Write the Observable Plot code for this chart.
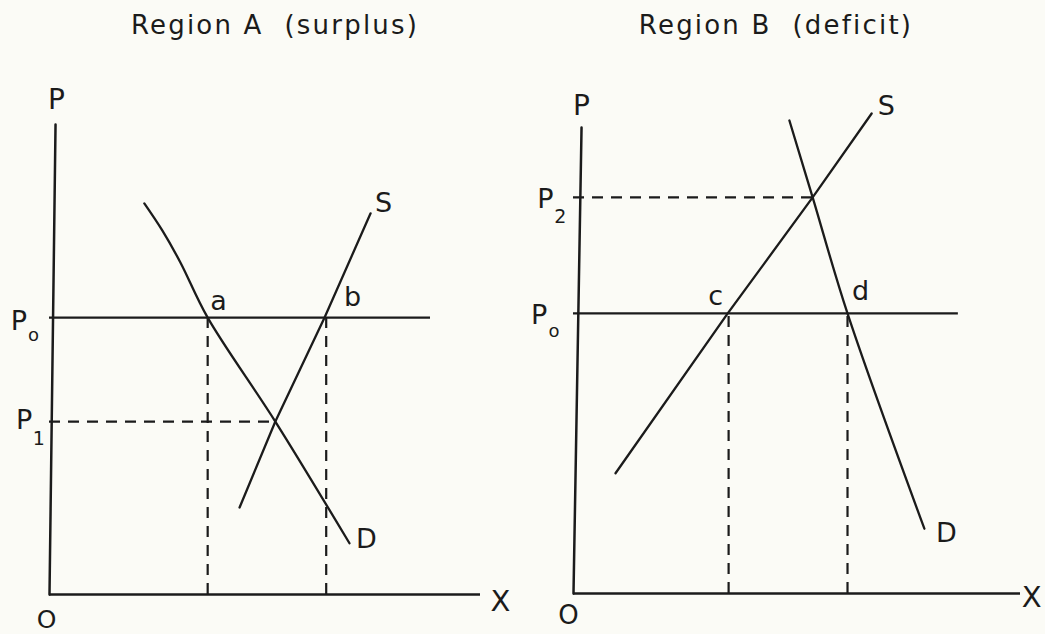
<!DOCTYPE html>
<html>
<head>
<meta charset="utf-8">
<script src="https://cdn.jsdelivr.net/npm/d3@7"></script>
<script src="https://cdn.jsdelivr.net/npm/@observablehq/plot@0.6"></script>
<style>
  html, body { margin: 0; padding: 0; background: #fbfbf6; }
  #page { position: relative; width: 1045px; height: 634px; overflow: hidden; font-family: "DejaVu Sans", sans-serif; color: #1b1b1b; }
  .titles { position: relative; height: 60px; }
  .title { position: absolute; top: 10px; transform: translateX(-50%); white-space: pre; font-size: 26px; letter-spacing: 2.2px; line-height: 30px; }
  .row { display: flex; }
  .row svg { display: block; }
</style>
</head>
<body>
<div id="page">
  <div class="titles">
    <div class="title" id="titleA" style="left:275px"></div>
    <div class="title" id="titleB" style="left:776px"></div>
  </div>
  <div class="row" id="row"></div>
</div>
<script>
// ---------- Data (diagram units: quantity X on 0..100, price P on 0..100) ----------
const panelTitles = ["Region A  (surplus)", "Region B  (deficit)"];

// Region A (surplus)
const aPriceLevels = { P0: 58.9, P1: 36.8 };
const aPriceLineEnd = 88.4;          // where the P0 line stops
const aQuantities = { a: 36.7, b: 64.2, E: 52.4 };
const aDemandX = [22.0, 26.2, 30.4, 36.7, 52.4, 69.6];
const aDemandP = [83.2, 77.4, 70.6, 58.9, 36.8, 10.9];
const aSupplyX = [44.1, 52.4, 63.8, 74.5];
const aSupplyP = [18.5, 36.8, 58.9, 81.1];
const aAxisTopX = 1.4;

// Region B (deficit)
const bPriceLevels = { P0: 60.1, P2: 85.0 };
const bPriceLineEnd = 86.1;
const bQuantities = { c: 34.7, d: 61.3, E: 53.5 };
const bSupplyX = [9.4, 34.5, 53.5, 66.7];
const bSupplyP = [25.8, 60.1, 85.0, 103.0];
const bDemandX = [48.3, 53.5, 61.3, 78.5];
const bDemandP = [101.5, 85.0, 60.1, 13.9];
const bAxisTopX = 1.8;

// Labels: text, position in diagram units, size; sub = subscript (left-anchored)
const aLabels = [
  { t: "P", x: 1.6, y: 105.3, s: 28 },
  { t: "S", x: 77.5, y: 83.2, s: 27 },
  { t: "a", x: 39.2, y: 62.3, s: 27 },
  { t: "b", x: 70.3, y: 63.2, s: 27 },
  { t: "P", x: -7.1, y: 58.1, s: 27 },
  { t: "o", x: -5.0, y: 55.2, s: 18, sub: true },
  { t: "P", x: -5.9, y: 37.0, s: 27 },
  { t: "1", x: -3.9, y: 33.2, s: 19, sub: true },
  { t: "D", x: 73.5, y: 11.7, s: 27 },
  { t: "O", x: -0.7, y: -5.4, s: 25 },
  { t: "X", x: 104.6, y: -1.5, s: 29 }
];
const bLabels = [
  { t: "P", x: 1.8, y: 104.5, s: 28 },
  { t: "S", x: 70.0, y: 104.5, s: 27 },
  { t: "P", x: -6.3, y: 84.5, s: 27 },
  { t: "2", x: -4.3, y: 80.9, s: 19, sub: true },
  { t: "c", x: 31.8, y: 63.7, s: 27 },
  { t: "d", x: 64.2, y: 64.8, s: 27 },
  { t: "P", x: -7.7, y: 59.7, s: 27 },
  { t: "o", x: -5.6, y: 56.3, s: 18, sub: true },
  { t: "D", x: 83.4, y: 12.9, s: 27 },
  { t: "O", x: -1.1, y: -4.8, s: 26 },
  { t: "X", x: 102.5, y: -0.9, s: 29 }
];

const ink = "#1b1b1b";
const dash = "11,8";

function pts(xs, ys) { return xs.map((x, i) => ({ x, y: ys[i] })); }

function panel(opts) {
  const { width, height, margins, axisTopX, solidLevel, solidEnd, dashedLevel, dashedEnd, verticals, demand, supply, labels } = opts;
  return Plot.plot({
    width, height,
    marginLeft: margins[0], marginRight: margins[1], marginTop: margins[2], marginBottom: margins[3],
    x: { domain: [0, 100], axis: null },
    y: { domain: [0, 100], axis: null },
    style: { background: "transparent", overflow: "visible", fontFamily: "DejaVu Sans, sans-serif" },
    marks: [
      // axes
      Plot.line(pts([0, axisTopX], [0, 100]), { x: "x", y: "y", stroke: ink, strokeWidth: 2.5 }),
      Plot.ruleY([0], { x1: 0, x2: 100, stroke: ink, strokeWidth: 2.5 }),
      // world price line
      Plot.ruleY([solidLevel], { x1: 0, x2: solidEnd, stroke: ink, strokeWidth: 2.2 }),
      // dashed autarky price line
      Plot.ruleY([dashedLevel], { x1: 0, x2: dashedEnd, stroke: ink, strokeWidth: 2.2, strokeDasharray: dash }),
      // dashed quantity drops
      Plot.ruleX(verticals, { y1: 0, y2: solidLevel, stroke: ink, strokeWidth: 2.2, strokeDasharray: dash }),
      // demand and supply
      Plot.line(demand, { x: "x", y: "y", stroke: ink, strokeWidth: 2.3, curve: "catmull-rom" }),
      Plot.line(supply, { x: "x", y: "y", stroke: ink, strokeWidth: 2.3 }),
      // labels
      Plot.text(labels, { filter: d => !d.sub, x: "x", y: "y", text: "t", fontSize: "s", fill: ink, textAnchor: "middle", lineAnchor: "middle" }),
      Plot.text(labels, { filter: d => d.sub, x: "x", y: "y", text: "t", fontSize: "s", fill: ink, textAnchor: "start", lineAnchor: "middle" })
    ]
  });
}

document.getElementById("titleA").textContent = panelTitles[0];
document.getElementById("titleB").textContent = panelTitles[1];

const row = document.getElementById("row");
row.appendChild(panel({
  width: 522, height: 574, margins: [49, 42, 64, 40],
  axisTopX: aAxisTopX,
  solidLevel: aPriceLevels.P0, solidEnd: aPriceLineEnd,
  dashedLevel: aPriceLevels.P1, dashedEnd: aQuantities.E,
  verticals: [aQuantities.a, aQuantities.b],
  demand: pts(aDemandX, aDemandP), supply: pts(aSupplyX, aSupplyP),
  labels: aLabels
}));
row.appendChild(panel({
  width: 523, height: 574, margins: [51, 25, 67, 41],
  axisTopX: bAxisTopX,
  solidLevel: bPriceLevels.P0, solidEnd: bPriceLineEnd,
  dashedLevel: bPriceLevels.P2, dashedEnd: bQuantities.E,
  verticals: [bQuantities.c, bQuantities.d],
  demand: pts(bDemandX, bDemandP), supply: pts(bSupplyX, bSupplyP),
  labels: bLabels
}));
</script>
</body>
</html>
